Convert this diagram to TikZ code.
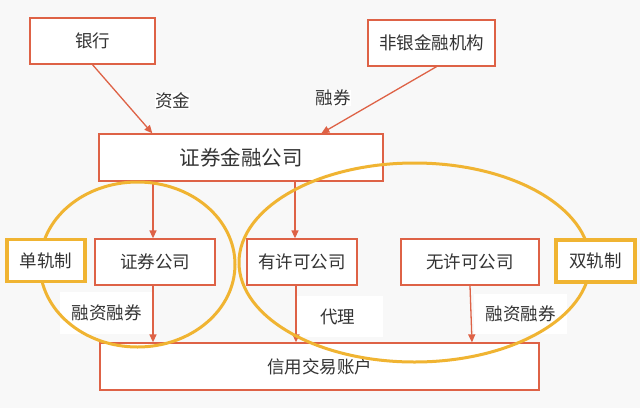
\documentclass[tikz,border=0pt]{standalone}
\usepackage{fontspec}
\setmainfont{Noto Sans CJK SC}
\usepackage{xcolor}
\usetikzlibrary{arrows.meta,positioning}
\definecolor{boxred}{RGB}{222,98,70}
\definecolor{railyellow}{RGB}{240,180,50}
\definecolor{txtgray}{RGB}{51,51,51}
\definecolor{bggray}{RGB}{248,248,248}

\begin{document}
\begin{tikzpicture}[x=1pt,y=-1pt]
\tikzset{Box/.style={draw=boxred, line width=1.3pt, fill=white, text=txtgray,
    minimum height=46pt, inner sep=0pt, font=\fontsize{17.5}{20}\selectfont},
  Tag/.style={fill=white, text=txtgray, inner sep=0pt, font=\fontsize{17.5}{20}\selectfont},
  Rail/.style={draw=railyellow, line width=3.5pt, fill=white, text=txtgray,
    minimum height=42pt, inner sep=0pt, font=\fontsize{17.5}{20}\selectfont},
  Flow/.style={draw=boxred, line width=1.3pt, -{Triangle[length=8pt,width=7pt]}},
  Ring/.style={draw=railyellow, line width=3pt}}
\fill[bggray] (0,0) rectangle (640,408);
\useasboundingbox (0,0) rectangle (640,408);
\node[Box, minimum width=125pt] (bank) at (92.5,41) {银行};
\node[Box, minimum width=127pt] (nonbank) at (431.5,43) {非银金融机构};
\node[Box, minimum width=284pt, minimum height=47pt,
  font=\fontsize{20.5}{24}\selectfont] (fin) at (241,157.5) {证券金融公司};
\node[Box, minimum width=120pt] (sec) at (155,262) {证券公司};
\node[Box, minimum width=110pt] (lic) at (302,262) {有许可公司};
\node[Box, minimum width=138pt] (unlic) at (470,262) {无许可公司};
\node[Box, minimum width=439pt, minimum height=47pt] (acct) at (319.5,366.5) {信用交易账户};
\node[Tag, text=txtgray] (fund) at (172.5,101) {资金};
\node[Tag, text=txtgray] (lend) at (333,98) {融券};
\node[Tag, minimum width=93pt, minimum height=42pt] (margin1) at (106.5,313) {融资融券};
\node[Tag, minimum width=88pt, minimum height=41pt] (agent) at (339,316.5) {\hspace*{-3pt}代理};
\node[Tag, minimum width=93pt, minimum height=40pt] (margin2) at (520.5,314) {融资融券};
\draw[Flow] (bank.south) -- ([xshift=54pt]fin.north west);
\draw[Flow] ([xshift=5pt]nonbank.south) -- ([xshift=223pt]fin.north west);
\draw[Flow] ([xshift=-2pt]fin.south -| sec.north) -- ([xshift=-2pt]sec.north);
\draw[Flow] ([xshift=-7pt]fin.south -| lic.north) -- ([xshift=-7pt]lic.north);
\draw[Flow] ([xshift=-2pt]sec.south) -- ([xshift=-2pt]sec.south |- acct.north);
\draw[Flow] ([xshift=-6pt]lic.south) -- ([xshift=-6pt]lic.south |- acct.north);
\draw[Flow] (unlic.south) -- ([xshift=2pt]unlic.south |- acct.north);
\draw[Ring] (137.5,264.5) ellipse (97.5 and 82.5);
\draw[Ring] (414.5,262.5) ellipse (175.5 and 99.5);
\node[Rail, minimum width=78pt] (single) at (46,260.5) {单轨制};
\node[Rail, minimum width=79pt] (dual) at (595.5,261) {双轨制};
\end{tikzpicture}
\end{document}
